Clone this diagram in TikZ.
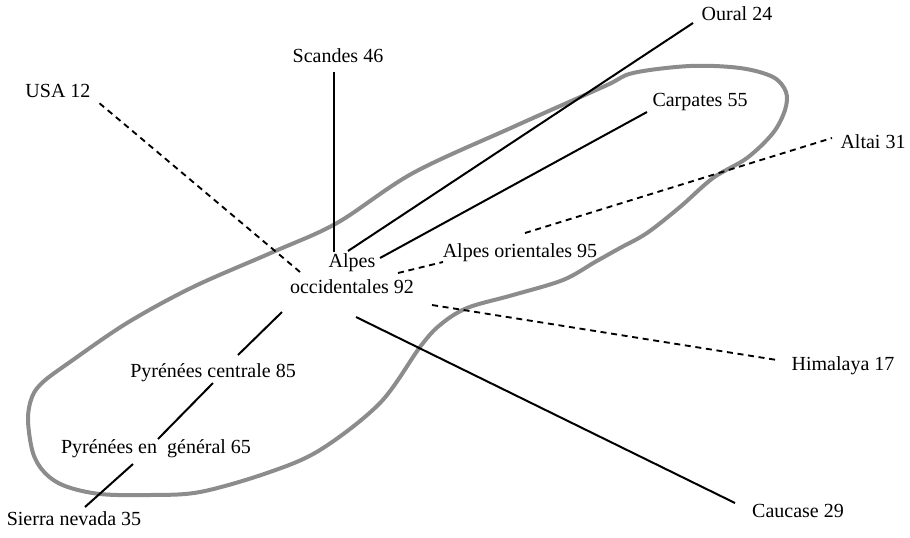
\documentclass[tikz,border=0pt]{standalone}
\usepackage{fontspec}
\setmainfont{Liberation Serif}
\begin{document}
\begin{tikzpicture}[x=0.75pt,y=-0.75pt,
  lbl/.style={inner sep=0pt,font=\fontsize{15}{19.5}\selectfont,text height=10.5pt,text depth=3pt},
  solidline/.style={draw=black,line width=1.5pt},
  thinline/.style={draw=black,line width=1.2pt},
  dashline/.style={draw=black,line width=1.4pt,dash pattern=on 4.5pt off 3.5pt},
  loopline/.style={draw=black!45,line width=3pt,line join=round}]
\useasboundingbox (0,0) rectangle (910,537);
% grey loop
\draw[loopline] plot[smooth cycle,tension=0.55] coordinates {
 (43,382) (70,362) (127,323) (193,287) (273,252) (337,223) (413,173) (513,127)
 (605,86) (633,73) (690,66) (740,68) (773,77) (786,92) (785,110) (773,133)
 (747,158) (713,178) (680,207) (647,233) (620,248) (595,262) (563,280) (513,295)
 (467,308) (440,325) (420,347) (380,403) (320,450) (267,473) (200,492) (150,495)
 (100,494) (65,486) (45,473) (33,453) (28,420) (32,397)};
% labels
\node[lbl,align=center] (alpes) at (352,288) {Alpes\\occidentales 92};
\node[lbl] (oural) at (737,15) {Oural 24};
\node[lbl] (scandes) at (338,57) {Scandes 46};
\node[lbl] (usa) at (58,92) {USA 12};
\node[lbl] (carp) at (700,101) {Carpates 55};
\node[lbl] (altai) at (873,143) {Altai 31};
\node[lbl] (orient) at (520,252) {Alpes orientales 95};
\node[lbl] (hima) at (843,365) {Himalaya 17};
\node[lbl] (cauc) at (798,512) {Caucase 29};
\node[lbl] (pcent) at (213,372) {Pyrénées centrale 85};
\node[lbl] (pgen) at (156,448) {Pyrénées en\ \ général 65};
\node[lbl] (sierra) at (74,520) {Sierra nevada 35};
% connector end points
\coordinate (aO) at (348,251); \coordinate (oO) at (693,23);
\coordinate (aS) at (334,252); \coordinate (sS) at (334,72);
\coordinate (aU) at (300,272); \coordinate (uU) at (98,102);
\coordinate (aC) at (380,258); \coordinate (cC) at (647,112);
\coordinate (oA) at (525,233); \coordinate (tA) at (832,138);
\coordinate (aR) at (398,273); \coordinate (rR) at (443,262);
\coordinate (aH) at (432,305); \coordinate (hH) at (777,360);
\coordinate (aK) at (356,317); \coordinate (kK) at (735,503);
\coordinate (aP) at (282,312); \coordinate (pP) at (238,355);
\coordinate (pc1) at (213,383); \coordinate (pg1) at (158,439);
\coordinate (pg2) at (133,464); \coordinate (sn) at (85,507);
% connectors
\draw[solidline] (aO) -- (oO);
\draw[thinline] (aS) -- (sS);
\draw[dashline] (aU) -- (uU);
\draw[solidline] (aC) -- (cC);
\draw[dashline] (oA) -- (tA);
\draw[dashline] (aR) -- (rR);
\draw[dashline] (aH) -- (hH);
\draw[solidline] (aK) -- (kK);
\draw[solidline] (aP) -- (pP);
\draw[solidline] (pc1) -- (pg1);
\draw[solidline] (pg2) -- (sn);
\end{tikzpicture}
\end{document}
